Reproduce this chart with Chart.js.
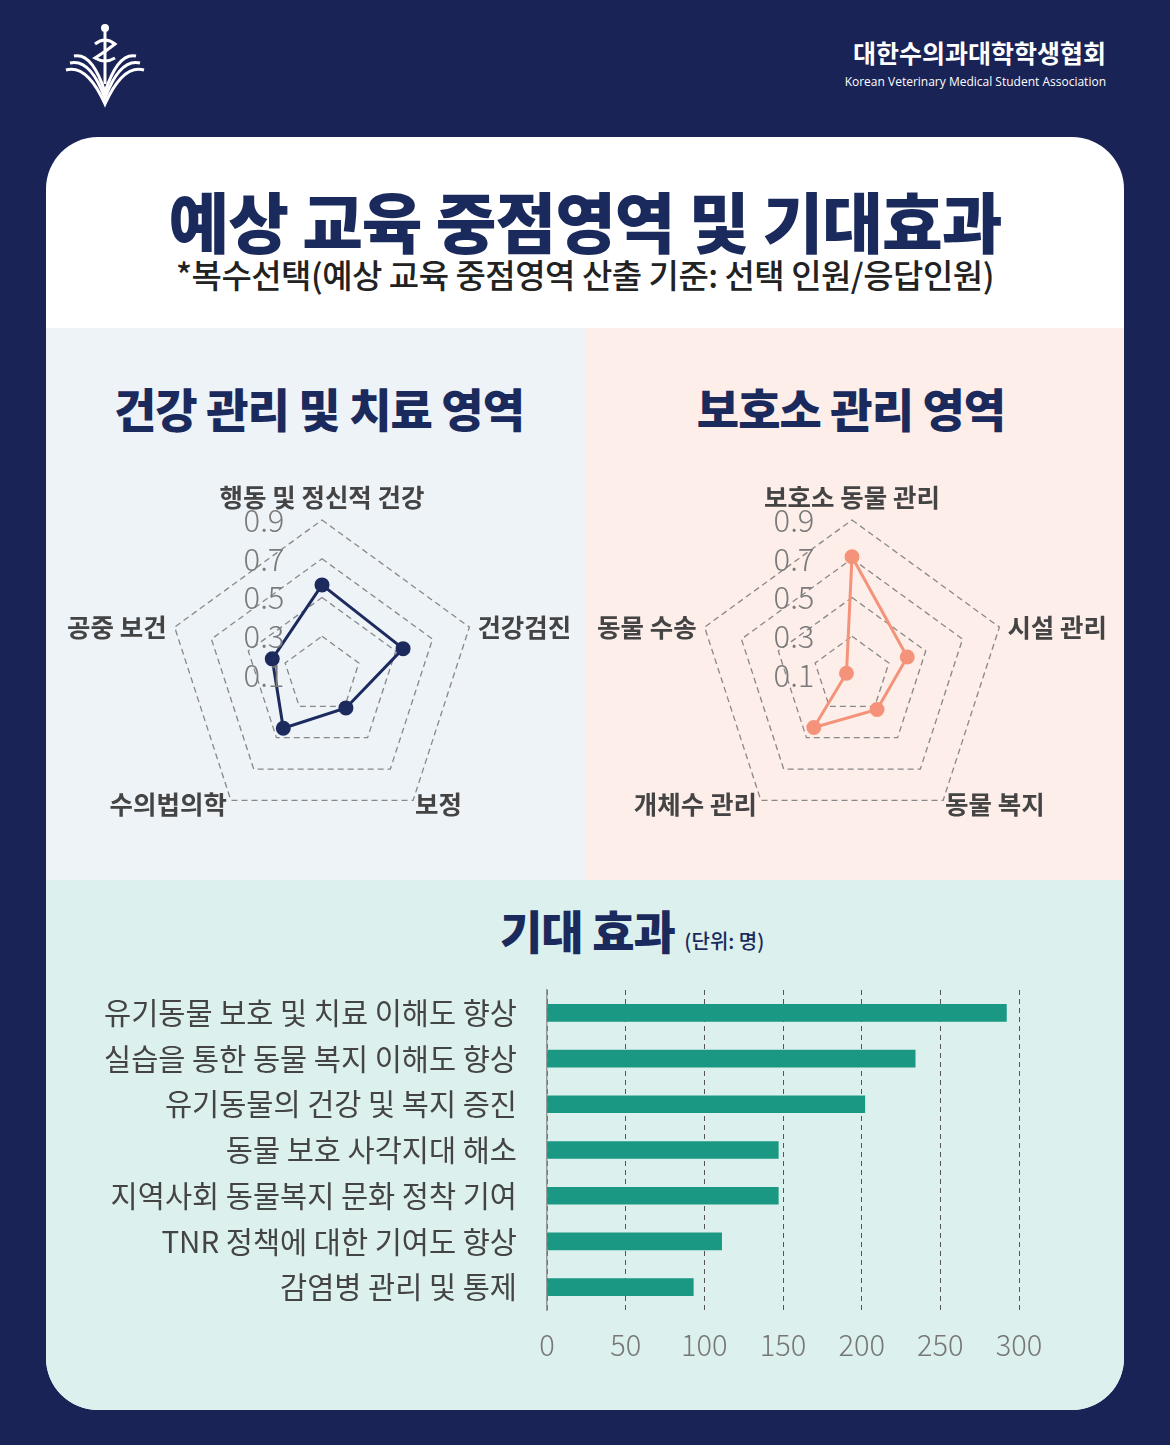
<!DOCTYPE html>
<html><head><meta charset="utf-8">
<script src="https://cdn.jsdelivr.net/npm/chart.js@4"></script>
<style>
body{margin:0;width:1170px;height:1445px;background:#1a2356;font-family:"Noto Sans CJK KR","Noto Sans",sans-serif;position:relative;overflow:hidden}
.abs{position:absolute}
#card{left:46px;top:137px;width:1078px;height:1273px;border-radius:52px;background:#fff;overflow:hidden}
#pl{left:0;top:191px;width:540px;height:552px;background:#eef3f7}
#pr{left:540px;top:191px;width:538px;height:552px;background:#fdeee9}
#pb{left:0;top:743px;width:1078px;height:530px;background:#dcf0ed}
.h2{font-weight:900;font-size:46px;color:#1b2a5c;text-align:center;letter-spacing:-1px}
</style></head><body>
<svg class="abs" style="left:62px;top:22px" width="86" height="86" viewBox="0 0 86 86">
<g fill="none" stroke="#fff" stroke-width="3">
<path d="M43 4 V62"/><path d="M33 22 q10 -8 20 0 q-10 8 -20 14 q10 6 20 0"/>
<path d="M4 48 Q25 42 43 82 Q61 42 82 48"/><path d="M8 41 Q28 36 43 76 Q58 36 78 41"/>
<path d="M12 34 Q30 30 43 70 Q56 30 74 34"/></g>
<circle cx="43" cy="6" r="4" fill="#fff"/></svg>
<div class="abs" style="right:64px;top:34px;color:#fff;font-weight:700;font-size:25px">대한수의과대학학생협회</div>
<div class="abs" style="right:64px;top:73px;color:#fff;font-size:12px;font-family:'Open Sans'">Korean Veterinary Medical Student Association</div>
<div id="card" class="abs">
  <div class="abs" style="left:0;width:1078px;top:34px;text-align:center;font-weight:900;font-size:66px;color:#1b2a5c;letter-spacing:-1px">예상 교육 중점영역 및 기대효과</div>
  <div class="abs" style="left:0;width:1078px;top:113px;text-align:center;font-weight:500;font-size:33px;color:#222;letter-spacing:-0.5px">*복수선택(예상 교육 중점영역 산출 기준: 선택 인원/응답인원)</div>
  <div id="pl" class="abs"><div class="abs h2" style="left:0;width:546px;top:46px">건강 관리 및 치료 영역</div></div>
  <div id="pr" class="abs"><div class="abs h2" style="left:0;width:530px;top:46px">보호소 관리 영역</div></div>
  <div id="pb" class="abs"><div class="abs h2" style="left:454px;top:16px;text-align:left;white-space:nowrap">기대 효과 <span style="font-size:20px;font-weight:500;letter-spacing:0">(단위: 명)</span></div></div>
</div>
<canvas id="r1" class="abs" style="left:52px;top:460px" width="540" height="420"></canvas>
<canvas id="r2" class="abs" style="left:582px;top:460px" width="540" height="420"></canvas>
<canvas id="bar" class="abs" style="left:60px;top:980px" width="1040" height="400"></canvas>
<script>
const healthLabels = ["행동 및 정신적 건강", "건강검진", "보정", "수의법의학", "공중 보건"];
const healthValues = [0.565, 0.54, 0.31, 0.44, 0.37];
const shelterLabels = ["보호소 동물 관리", "시설 관리", "동물 복지", "개체수 관리", "동물 수송"];
const shelterValues = [0.71, 0.4, 0.32, 0.435, 0.13];
const radarTicks = [0.1, 0.3, 0.5, 0.7, 0.9];
const effectLabels = ["유기동물 보호 및 치료 이해도 향상", "실습을 통한 동물 복지 이해도 향상", "유기동물의 건강 및 복지 증진",
  "동물 보호 사각지대 해소", "지역사회 동물복지 문화 정착 기여", "TNR 정책에 대한 기여도 향상", "감염병 관리 및 통제"];
const effectValues = [292, 234, 202, 147, 147, 111, 93];

const font = '"Noto Sans CJK KR", sans-serif';

const radarText = {
  id: "radarText",
  afterDraw(chart) {
    const s = chart.scales.r, ctx = chart.ctx;
    ctx.save();
    ctx.font = "300 31px " + font;
    ctx.fillStyle = "#7a7a7a";
    ctx.textAlign = "center";
    ctx.textBaseline = "middle";
    radarTicks.forEach(v => {
      const d = s.getDistanceFromCenterForValue(v);
      ctx.fillText(v.toFixed(1), s.xCenter - 58, s.yCenter - d);
    });
    ctx.font = "700 25.5px " + font;
    ctx.fillStyle = "#444";
    chart.data.labels.forEach((l, i) => {
      const p = s.getPointPosition(i, s.drawingArea);
      let x = p.x, y = p.y;
      if (i === 0) { ctx.textAlign = "center"; ctx.textBaseline = "bottom"; y -= 10; }
      else if (i === 1) { ctx.textAlign = "left"; ctx.textBaseline = "middle"; x += 8; }
      else if (i === 2) { ctx.textAlign = "left"; ctx.textBaseline = "middle"; x += 2; y += 4; }
      else if (i === 3) { ctx.textAlign = "right"; ctx.textBaseline = "middle"; x -= 4; y += 4; }
      else { ctx.textAlign = "right"; ctx.textBaseline = "middle"; x -= 8; }
      ctx.fillText(l, x, y);
    });
    ctx.restore();
  }
};

function makeRadar(id, labels, values, color) {
  new Chart(document.getElementById(id), {
    type: "radar",
    data: { labels: labels, datasets: [{ data: values, borderColor: color, backgroundColor: "transparent",
      pointBackgroundColor: color, pointBorderColor: color, pointRadius: 6, borderWidth: 3 }] },
    options: {
      responsive: false, animation: false,
      plugins: { legend: { display: false }, tooltip: { enabled: false } },
      scales: { r: {
        min: 0.1, max: 0.9,
        ticks: { display: false, stepSize: 0.2 },
        pointLabels: { display: false },
        angleLines: { display: false },
        grid: { color: "#888", lineWidth: 1.3 },
        border: { dash: [6, 4] },
        afterFit(scale) { scale.drawingArea = 155; scale.xCenter = 270; scale.yCenter = 215; }
      } }
    },
    plugins: [radarText]
  });
}
makeRadar("r1", healthLabels, healthValues, "#1c2a5e");
makeRadar("r2", shelterLabels, shelterValues, "#f4937a");

new Chart(document.getElementById("bar"), {
  type: "bar",
  data: { labels: effectLabels, datasets: [{ data: effectValues, backgroundColor: "#1a9883", barThickness: 17 }] },
  options: {
    indexAxis: "y", responsive: false, animation: false,
    layout: { padding: { top: 10, right: 81 } },
    plugins: { legend: { display: false }, tooltip: { enabled: false } },
    scales: {
      x: { min: 0, max: 300,
        ticks: { stepSize: 50, color: "#777", font: { family: font, size: 29, weight: 300 }, padding: 18 },
        grid: { color: "#555", drawTicks: false, lineWidth: 1 },
        border: { display: false, dash: [5, 4] },
        afterFit(s) { s.height = 70; } },
      y: { ticks: { color: "#444", font: { family: font, size: 29.5, weight: 400 }, padding: 22 },
        grid: { display: false }, border: { color: "#999", width: 1.5 },
        afterFit(s) { s.width = 487; s.paddingTop = 0; s.paddingBottom = 0; } }
    }
  }
});
</script>
</body></html>
